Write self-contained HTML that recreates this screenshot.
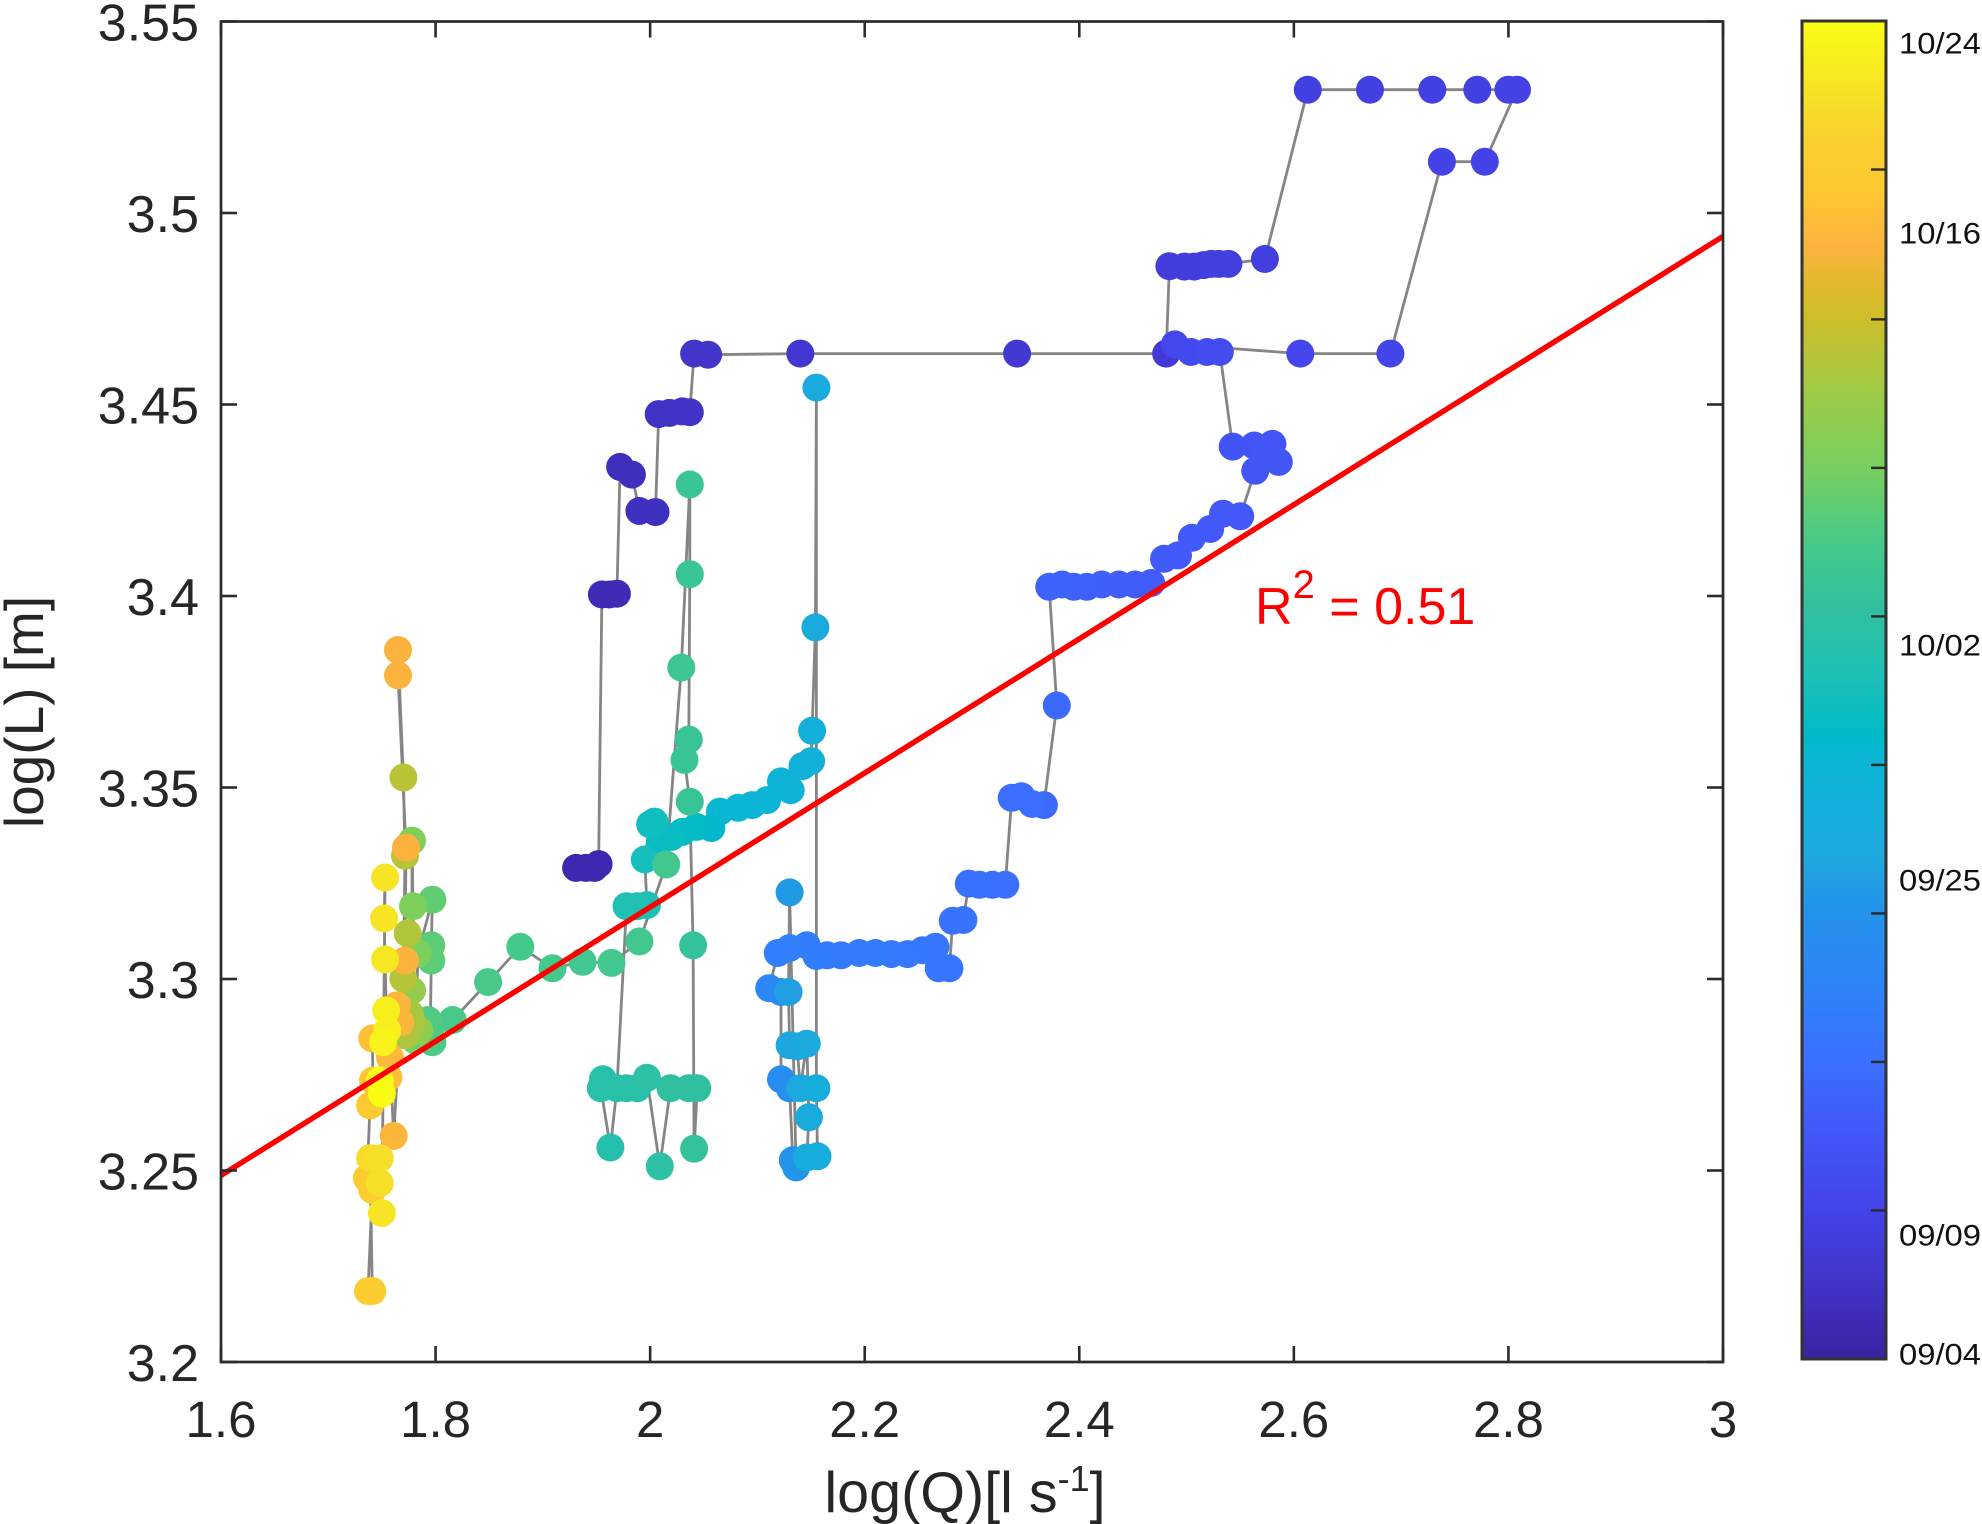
<!DOCTYPE html>
<html lang="en">
<head>
<meta charset="utf-8">
<title>log(L) vs log(Q) chart</title>
<style>
html,body{margin:0;padding:0;background:#fff;width:1982px;height:1524px;overflow:hidden}
svg{display:block}
text{font-family:"Liberation Sans",Arial,sans-serif}
</style>
</head>
<body>
<svg id="chart" xmlns="http://www.w3.org/2000/svg" width="1982" height="1524" viewBox="0 0 1982 1524">
  <defs>
    <linearGradient id="cbGrad" x1="0" y1="1" x2="0" y2="0"></linearGradient>
  </defs>
  <rect x="0" y="0" width="1982" height="1524" fill="#ffffff"></rect>
  <g id="lineLayer"></g>
  <g id="pointLayer"></g>
  <g id="fitLayer"></g>
  <g id="axisLayer"></g>
  <g id="cbLayer"></g>
  <text x="965" y="1512" text-anchor="middle" font-size="57.5" fill="#262626">log(Q)[l s<tspan dy="-21" font-size="36">-1</tspan><tspan dy="21">]</tspan></text>
  <text transform="translate(43,712) rotate(-90)" text-anchor="middle" font-size="55" fill="#262626">log(L) [m]</text>
  <text x="1255" y="624" font-size="52" fill="#ff0000">R<tspan dy="-26" font-size="40">2</tspan><tspan dy="26"> = 0.51</tspan></text>
</svg>
<script>
// Chart data, in time order
const logQ = [
  1.931,1.940,1.948,1.952,1.955,1.962,1.969,1.972,1.983,1.990,2.005,2.008,2.018,2.030,2.037,2.041,2.054,
  2.140,2.342,2.481,2.484,2.498,2.507,2.516,2.523,2.530,2.539,2.573,2.613,2.671,2.729,2.771,2.800,2.808,2.778,2.738,2.690,2.606,2.489,2.504,2.519,2.531,
  2.543,2.563,2.580,2.586,2.574,2.564,2.550,2.534,2.522,2.505,2.492,2.479,2.467,2.452,2.437,2.421,2.407,2.395,2.384,2.372,
  2.379,2.367,2.356,2.346,2.337,2.331,2.319,2.307,2.297,2.292,2.282,2.279,2.269,2.266,2.254,2.240,2.225,2.210,2.195,2.178,2.165,2.155,2.146,2.130,2.119,
  2.111,2.122,2.122,2.130,2.133,2.136,2.130,2.129,2.130,2.137,2.140,2.146,2.148,2.146,2.156,2.155,2.155,2.154,
  2.151,2.150,2.142,2.131,2.122,2.109,2.095,2.082,2.065,2.057,2.043,2.030,2.020,2.009,2.004,2.000,1.995,1.997,1.988,1.978,
  1.969,1.963,1.954,1.956,1.978,1.988,1.997,2.009,2.019,2.036,2.044,2.041,2.040,2.037,
  2.032,2.036,2.037,2.037,2.029,2.015,1.990,1.964,1.937,1.909,1.879,1.849,1.816,
  1.797,1.793,1.795,1.796,1.796,1.797,1.7836,1.781,1.779,1.778,1.778,1.776,1.785,1.778,1.7715,1.774,1.770,1.7715,1.770,1.765,1.765,1.7724,1.7715,1.764,1.767,1.761,1.7575,1.756,1.741,1.7417,1.739,1.736,1.741,1.737,1.741,1.739,1.748,1.748,1.750,1.753,1.752,1.753,1.754,1.755,1.751,1.748,1.750
];
const logL = [
  3.329,3.329,3.329,3.330,3.4004,3.4004,3.4006,3.4337,3.4317,3.4222,3.4219,3.4475,3.4478,3.4482,3.448,3.4633,3.4630,
  3.4633,3.4633,3.4633,3.4861,3.486,3.486,3.4864,3.4867,3.4867,3.4867,3.488,3.5322,3.5322,3.5322,3.5322,3.5322,3.5322,3.5134,3.5134,3.4633,3.4633,3.4657,3.4637,3.4637,3.4637,
  3.439,3.4393,3.4397,3.435,3.4375,3.4327,3.4208,3.4215,3.4175,3.4152,3.4106,3.4097,3.4034,3.403,3.403,3.403,3.4024,3.4024,3.403,3.4024,
  3.3714,3.3454,3.3457,3.3477,3.3473,3.3246,3.3246,3.3246,3.3249,3.3154,3.3152,3.3028,3.3028,3.3084,3.3075,3.3065,3.3065,3.3068,3.3068,3.3062,3.3062,3.306,3.3088,3.3081,3.3068,
  3.2976,3.2966,3.2738,3.2715,3.2527,3.2508,3.3226,3.2966,3.2827,3.2824,3.2715,3.2831,3.2639,3.2534,3.2537,3.2715,3.4544,3.3918,
  3.3648,3.3569,3.3556,3.3493,3.3516,3.3467,3.3454,3.3447,3.3437,3.3394,3.3397,3.3384,3.3371,3.3358,3.3411,3.3404,3.3312,3.3193,3.319,3.319,
  3.2715,3.256,3.2715,3.2738,3.2715,3.2715,3.2742,3.2511,3.2715,3.2715,3.2715,3.2557,3.3088,3.3463,
  3.3572,3.3625,3.4057,3.4291,3.3813,3.3299,3.3098,3.3042,3.3045,3.3028,3.3084,3.2992,3.2893,
  3.2835,3.2893,3.2858,3.3048,3.3088,3.3207,3.3067,3.284,3.319,3.3361,3.297,3.291,3.2865,3.2885,3.2853,3.3119,3.3001,3.3322,3.3526,3.3859,3.3793,3.3343,3.3048,3.2931,3.2887,3.259,3.2795,3.2743,3.2845,3.2735,3.267,3.248,3.2449,3.2185,3.2185,3.2532,3.2532,3.2467,3.2389,3.3265,3.3158,3.3051,3.2918,3.2866,3.2835,3.2735,3.2701
];
// Position of each observation's date on the colour scale (0 = 09/04, 1 = 10/24)
const dateScale = [
  .02,.02,.02,.02,.03,.03,.03,.04,.04,.045,.045,.05,.05,.055,.055,.06,.06,
  .07,.075,.08,.09,.09,.09,.09,.095,.095,.095,.095,.10,.10,.10,.10,.105,.105,.11,.11,.115,.12,.125,.13,.135,.135,
  .16,.16,.16,.165,.165,.165,.17,.17,.17,.175,.175,.175,.18,.18,.185,.185,.19,.19,.195,.195,
  .21,.21,.215,.215,.215,.22,.22,.225,.225,.23,.23,.235,.235,.24,.24,.245,.245,.25,.25,.255,.255,.26,.26,.265,.265,
  .29,.30,.31,.32,.33,.34,.35,.36,.37,.37,.38,.38,.39,.39,.40,.40,.385,.39,
  .41,.42,.42,.43,.43,.44,.44,.45,.45,.46,.47,.47,.48,.48,.49,.49,.50,.51,.52,.52,
  .53,.53,.54,.54,.54,.54,.55,.55,.56,.56,.56,.57,.57,.58,
  .58,.58,.585,.585,.59,.60,.60,.60,.60,.605,.605,.61,.61,
  .615,.62,.62,.635,.635,.64,.67,.66,.675,.68,.71,.73,.70,.735,.74,.745,.75,.75,.755,.832,.832,.832,.832,.835,.84,.84,.845,.85,.855,.865,.885,.89,.895,.895,.895,.93,.94,.94,.95,.95,.95,.955,.97,.975,.98,1,1
];
const fitQ = [1.6, 3.0];
const fitL = [3.2487, 3.4939];
const xTicks = [1.6,1.8,2,2.2,2.4,2.6,2.8,3];
const yTicks = [3.2,3.25,3.3,3.35,3.4,3.45,3.5,3.55];
const cbTicks = [.111,.222,.333,.444,.555,.666,.777,.889];
const cbLabels = ['10/24','10/16','10/02','09/25','09/09','09/04'];
const cbLabelValues = [.984,.842,.534,.3585,.093,.004];
const cmapPos = [0,.044,.11,.171,.222,.268,.343,.373,.448,.466,.507,.558,.607,.666,.717,.777,.806,.831,.874,.911,.941,1];
const cmapCol = ['#3a22a0','#4030c0','#4443e8','#4258f8','#3a70ff','#3080fa','#2296e8','#1ea8de','#0ab5d5','#00bac8','#1bc0b8','#2fc0a0','#45c98b','#78cf5f','#9acb48','#cdbf2a','#e4b82e','#fcb33e','#fec832','#fad02e','#f5e028','#fafc14'];

const NS = 'http://www.w3.org/2000/svg';
const PLOT = {l:221, r:1723, t:21.5, b:1362};
const BAR = {l:1802, r:1886, t:21, b:1359};
const xScale = v => PLOT.l + (v - 1.6) / 1.4 * (PLOT.r - PLOT.l);
const yScale = v => PLOT.b - (v - 3.2) / 0.35 * (PLOT.b - PLOT.t);
const cbScale = v => BAR.b - v * (BAR.b - BAR.t);
function hex(c){return [1,3,5].map(i=>parseInt(c.substr(i,2),16));}
function colorAt(v){
  let i = 0;
  while(i < cmapPos.length - 2 && v > cmapPos[i+1]) i++;
  const f = Math.max(0, Math.min(1, (v - cmapPos[i]) / (cmapPos[i+1] - cmapPos[i])));
  const a = hex(cmapCol[i]), b = hex(cmapCol[i+1]);
  return 'rgb(' + a.map((x,k)=>Math.round(x + (b[k]-x)*f)).join(',') + ')';
}
function mk(tag, parent, props){
  const el = document.createElementNS(NS, tag);
  for(const k in props) el.setAttribute(k, props[k]);
  parent.appendChild(el);
  return el;
}
const lineLayer = document.getElementById('lineLayer');
const pointLayer = document.getElementById('pointLayer');
const fitLayer = document.getElementById('fitLayer');
const axisLayer = document.getElementById('axisLayer');
const cbLayer = document.getElementById('cbLayer');

// connecting line
const pathEl = mk('polyline', lineLayer, {
  points: logQ.map((q,i)=>xScale(q).toFixed(1)+','+yScale(logL[i]).toFixed(1)).join(' '),
  fill:'none', stroke:'#858585', 'stroke-width':2.8, 'stroke-linejoin':'round'
});



// points
logQ.forEach((q,i)=>{
  const c = mk('circle', pointLayer, {cx:xScale(q).toFixed(1), cy:yScale(logL[i]).toFixed(1), r:14, fill:colorAt(dateScale[i])});
  
  
});

// regression line
const fit = mk('line', fitLayer, {x1:xScale(fitQ[0]), y1:yScale(fitL[0]), x2:xScale(fitQ[1]), y2:yScale(fitL[1]), stroke:'#ff0000', 'stroke-width':5.4});



// axes
const box = mk('rect', axisLayer, {x:PLOT.l, y:PLOT.t, width:PLOT.r-PLOT.l, height:PLOT.b-PLOT.t, fill:'none', stroke:'#2b2b2b', 'stroke-width':2.7});


xTicks.forEach(v=>{
  const x = xScale(v);
  const t1 = mk('line', axisLayer, {x1:x, x2:x, y1:PLOT.b, y2:PLOT.b-16, stroke:'#2b2b2b', 'stroke-width':2.6});
  
  
  const t2 = mk('line', axisLayer, {x1:x, x2:x, y1:PLOT.t, y2:PLOT.t+16, stroke:'#2b2b2b', 'stroke-width':2.6});
  
  
  const tx = mk('text', axisLayer, {x:x, y:1437, 'text-anchor':'middle', 'font-size':51, fill:'#262626'});
  tx.textContent = String(v);
  
  
});
yTicks.forEach(v=>{
  const y = yScale(v);
  const t1 = mk('line', axisLayer, {x1:PLOT.l, x2:PLOT.l+16, y1:y, y2:y, stroke:'#2b2b2b', 'stroke-width':2.6});
  
  
  const t2 = mk('line', axisLayer, {x1:PLOT.r, x2:PLOT.r-16, y1:y, y2:y, stroke:'#2b2b2b', 'stroke-width':2.6});
  
  
  const tx = mk('text', axisLayer, {x:199, y:y+19, 'text-anchor':'end', 'font-size':52, fill:'#262626'});
  tx.textContent = String(v);
  
  
});

// colorbar
const grad = document.getElementById('cbGrad');
cmapPos.forEach((p,i)=>{
  mk('stop', grad, {offset:p, 'stop-color':cmapCol[i]});
});
const bar = mk('rect', cbLayer, {x:BAR.l, y:BAR.t, width:BAR.r-BAR.l, height:BAR.b-BAR.t, fill:'url(#cbGrad)', stroke:'#333333', 'stroke-width':3});


cbTicks.forEach(v=>{
  const y = cbScale(v);
  const t = mk('line', cbLayer, {x1:BAR.r-15, x2:BAR.r, y1:y, y2:y, stroke:'#2b2b2b', 'stroke-width':2.4});
  
  
});
cbLabels.forEach((s,i)=>{
  const tx = mk('text', cbLayer, {x:1899, y:cbScale(cbLabelValues[i])+11, 'font-size':30, fill:'#111111', textLength:82, lengthAdjust:'spacingAndGlyphs'});
  tx.textContent = s;
  
  
});
</script>
</body>
</html>
